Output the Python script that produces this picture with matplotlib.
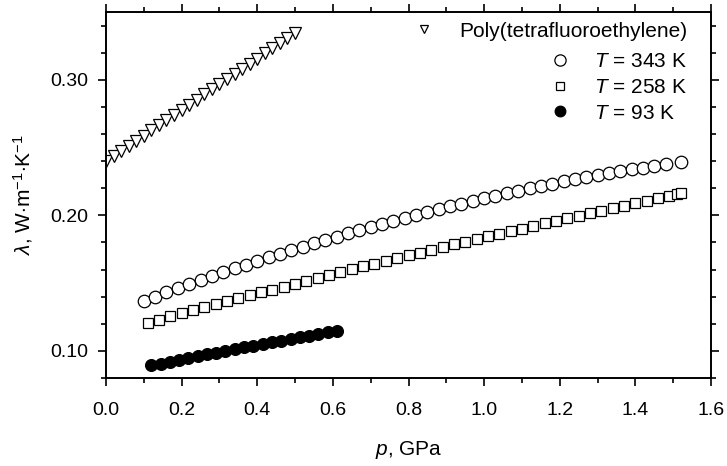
import matplotlib
matplotlib.use("Agg")
import matplotlib.pyplot as plt
from matplotlib.ticker import MultipleLocator, FormatStrFormatter

plt.rcParams['font.family'] = ['Liberation Sans', 'DejaVu Sans']
plt.rcParams['mathtext.fontset'] = 'custom'
plt.rcParams['mathtext.rm'] = 'Liberation Sans'
plt.rcParams['mathtext.it'] = 'Liberation Sans:italic'

# poly(tetrafluoroethylene), room temperature
p_ptfe = [0.00, 0.02, 0.04, 0.06, 0.08, 0.10, 0.12, 0.14, 0.16, 0.18, 0.20, 0.22, 0.24,
          0.26, 0.28, 0.30, 0.32, 0.34, 0.36, 0.38, 0.40, 0.42, 0.44, 0.46, 0.48, 0.50]
lam_ptfe = [0.2400, 0.2438, 0.2476, 0.2514, 0.2551, 0.2589, 0.2627, 0.2665, 0.2703,
            0.2741, 0.2778, 0.2816, 0.2854, 0.2892, 0.2930, 0.2968, 0.3005, 0.3043,
            0.3081, 0.3119, 0.3157, 0.3195, 0.3232, 0.3270, 0.3308, 0.3346]

# T = 343 K
p_343 = [0.10, 0.13, 0.16, 0.19, 0.22, 0.25, 0.28, 0.31, 0.34, 0.37, 0.40, 0.43, 0.46,
         0.49, 0.52, 0.55, 0.58, 0.61, 0.64, 0.67, 0.70, 0.73, 0.76, 0.79, 0.82, 0.85,
         0.88, 0.91, 0.94, 0.97, 1.00, 1.03, 1.06, 1.09, 1.12, 1.15, 1.18, 1.21, 1.24,
         1.27, 1.30, 1.33, 1.36, 1.39, 1.42, 1.45, 1.48, 1.52]
lam_343 = [0.1370, 0.1401, 0.1432, 0.1462, 0.1492, 0.1522, 0.1551, 0.1579, 0.1608,
           0.1636, 0.1663, 0.1690, 0.1717, 0.1743, 0.1769, 0.1794, 0.1819, 0.1844,
           0.1868, 0.1892, 0.1915, 0.1938, 0.1961, 0.1983, 0.2004, 0.2026, 0.2047,
           0.2067, 0.2087, 0.2107, 0.2126, 0.2145, 0.2163, 0.2181, 0.2199, 0.2216,
           0.2233, 0.2250, 0.2266, 0.2281, 0.2296, 0.2311, 0.2325, 0.2339, 0.2353,
           0.2366, 0.2379, 0.2395]

# T = 258 K
p_258 = [0.11, 0.14, 0.17, 0.20, 0.23, 0.26, 0.29, 0.32, 0.35, 0.38, 0.41, 0.44, 0.47,
         0.50, 0.53, 0.56, 0.59, 0.62, 0.65, 0.68, 0.71, 0.74, 0.77, 0.80, 0.83, 0.86,
         0.89, 0.92, 0.95, 0.98, 1.01, 1.04, 1.07, 1.10, 1.13, 1.16, 1.19, 1.22, 1.25,
         1.28, 1.31, 1.34, 1.37, 1.40, 1.43, 1.46, 1.49, 1.51, 1.52]
lam_258 = [0.1208, 0.1231, 0.1254, 0.1276, 0.1299, 0.1321, 0.1344, 0.1366, 0.1388,
           0.1410, 0.1431, 0.1453, 0.1475, 0.1496, 0.1518, 0.1539, 0.1560, 0.1581,
           0.1602, 0.1623, 0.1643, 0.1664, 0.1685, 0.1705, 0.1725, 0.1745, 0.1766,
           0.1786, 0.1805, 0.1825, 0.1845, 0.1864, 0.1884, 0.1903, 0.1922, 0.1941,
           0.1960, 0.1979, 0.1998, 0.2017, 0.2035, 0.2054, 0.2072, 0.2090, 0.2108,
           0.2126, 0.2144, 0.2156, 0.2162]

# T = 93 K
p_93 = [0.120, 0.145, 0.169, 0.194, 0.218, 0.243, 0.267, 0.292, 0.316, 0.341, 0.365,
        0.390, 0.414, 0.439, 0.463, 0.488, 0.512, 0.537, 0.561, 0.586, 0.610]
lam_93 = [0.0893, 0.0907, 0.0921, 0.0935, 0.0948, 0.0961, 0.0974, 0.0987, 0.1000,
          0.1013, 0.1026, 0.1038, 0.1051, 0.1063, 0.1076, 0.1088, 0.1100, 0.1113,
          0.1125, 0.1137, 0.1150]

fig = plt.figure(figsize=(7.27, 4.66), dpi=100)
ax = fig.add_axes([0.1458, 0.1888, 0.8322, 0.7854])

mk = dict(linestyle='none', markeredgecolor='black', markeredgewidth=0.9)
h_ptfe, = ax.plot(p_ptfe, lam_ptfe, marker='v', markersize=8, markerfacecolor='white', **mk)
h_343, = ax.plot(p_343, lam_343, marker='o', markersize=9, markerfacecolor='white', **mk)
h_258, = ax.plot(p_258, lam_258, marker='s', markersize=6.5, markerfacecolor='white', **mk)
h_93, = ax.plot(p_93, lam_93, marker='o', markersize=8.5, markerfacecolor='black', **mk)

ax.set_xlim(0.0, 1.6)
ax.set_ylim(0.08, 0.35)
ax.xaxis.set_major_locator(MultipleLocator(0.2))
ax.xaxis.set_minor_locator(MultipleLocator(0.1))
ax.yaxis.set_major_locator(MultipleLocator(0.10))
ax.yaxis.set_minor_locator(MultipleLocator(0.02))
ax.xaxis.set_major_formatter(FormatStrFormatter('%.1f'))
ax.yaxis.set_major_formatter(FormatStrFormatter('%.2f'))

for s in ax.spines.values():
    s.set_linewidth(1.4)
ax.tick_params(which='both', direction='out', top=True, right=True, width=1.2)
ax.tick_params(which='major', length=6, labelsize=14)
ax.tick_params(which='minor', length=3.5)
ax.tick_params(axis='x', which='major', pad=11)
ax.tick_params(axis='y', which='major', pad=7)

ax.set_xlabel('$p$, GPa', fontsize=15, labelpad=15)
ax.set_ylabel(r'$\lambda$, W$\cdot$m$^{-1}$$\cdot$K$^{-1}$', fontsize=15, labelpad=11)

leg1 = ax.legend([h_ptfe], ['Poly(tetrafluoroethylene)'], loc='upper left',
                 bbox_to_anchor=(0.5086, 0.974), frameon=False, fontsize=15,
                 borderpad=0, borderaxespad=0, handlelength=1.0, handletextpad=1.2,
                 markerscale=0.7)
ax.add_artist(leg1)
ax.legend([h_343, h_258, h_93], ['$T$ = 343 K', '$T$ = 258 K', '$T$ = 93 K'],
          loc='upper left', bbox_to_anchor=(0.734, 0.89), frameon=False, fontsize=15,
          borderpad=0, borderaxespad=0, handlelength=1.0, handletextpad=1.1,
          labelspacing=0.32, markerscale=0.9)

fig.savefig('out.png', dpi=100)
